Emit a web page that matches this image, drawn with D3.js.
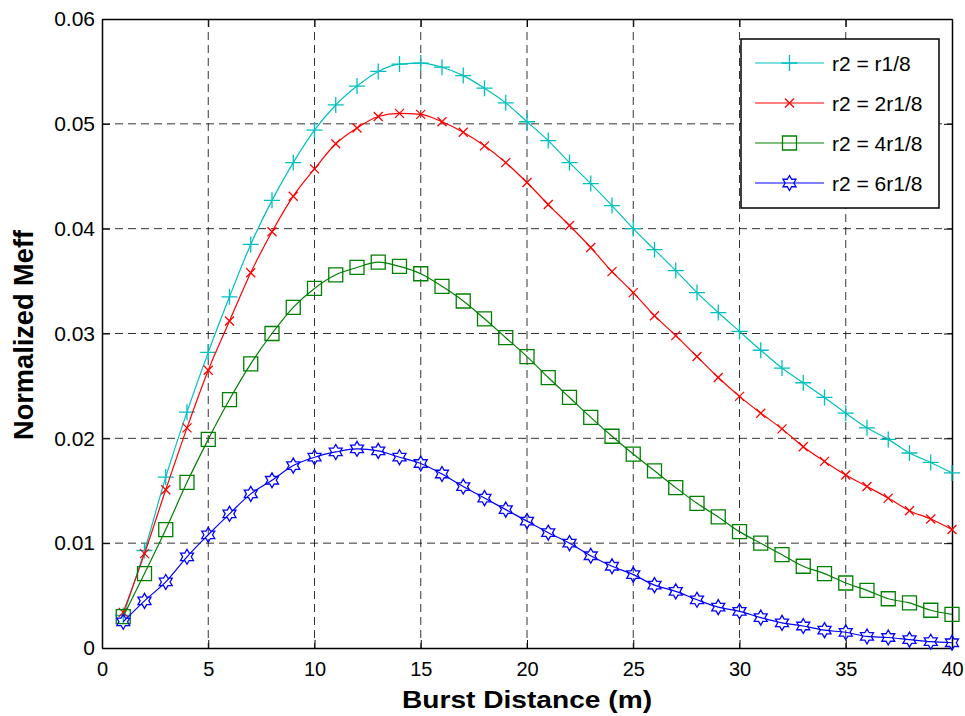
<!DOCTYPE html>
<meta charset="utf-8">
<style>
body { margin: 0; background: #fff; }
svg { font-family: "Liberation Sans", Arial, sans-serif; }
.grid line { stroke: #000; stroke-opacity: 0.8; stroke-dasharray: 8,5; }
.series { fill: none; stroke-width: 1.2px; }
</style>
<body>
<script src="https://d3js.org/d3.v7.min.js"></script>
<script>

// burst distance (m)
var distance = [1, 2, 3, 4, 5, 6, 7, 8, 9, 10, 11, 12, 13, 14, 15, 16, 17, 18, 19, 20,
                21, 22, 23, 24, 25, 26, 27, 28, 29, 30, 31, 32, 33, 34, 35, 36, 37, 38, 39, 40];

// normalized Meff, one array per r2
var r1_8 = [0.0031, 0.0093, 0.0163, 0.0225, 0.0282, 0.0335, 0.0385, 0.0427, 0.0463, 0.0494,
            0.0518, 0.0536, 0.0550, 0.0557, 0.0558, 0.0554, 0.0546, 0.0534, 0.0520, 0.0502,
            0.0484, 0.0463, 0.0443, 0.0422, 0.0400, 0.0380, 0.0360, 0.0339, 0.0320, 0.0302,
            0.0284, 0.0267, 0.0253, 0.0239, 0.0224, 0.0210, 0.0199, 0.0186, 0.0177, 0.0167];
var r2_8 = [0.0034, 0.0090, 0.0151, 0.0210, 0.0265, 0.0312, 0.0358, 0.0397, 0.0431, 0.0457,
            0.0481, 0.0496, 0.0507, 0.0510, 0.0509, 0.0502, 0.0492, 0.0479, 0.0463, 0.0444,
            0.0423, 0.0403, 0.0382, 0.0359, 0.0339, 0.0317, 0.0298, 0.0278, 0.0258, 0.0240,
            0.0224, 0.0209, 0.0192, 0.0178, 0.0165, 0.0154, 0.0143, 0.0131, 0.0123, 0.0113];
var r4_8 = [0.0030, 0.0071, 0.0113, 0.0158, 0.0199, 0.0237, 0.0271, 0.0300, 0.0325, 0.0343,
            0.0356, 0.0363, 0.0368, 0.0364, 0.0357, 0.0345, 0.0331, 0.0314, 0.0296, 0.0278,
            0.0258, 0.0239, 0.0220, 0.0202, 0.0185, 0.0169, 0.0153, 0.0138, 0.0125, 0.0111,
            0.0100, 0.0089, 0.0078, 0.0071, 0.0062, 0.0055, 0.0047, 0.0043, 0.0036, 0.0032];
var r6_8 = [0.0025, 0.0045, 0.0063, 0.0087, 0.0108, 0.0128, 0.0147, 0.0160, 0.0174, 0.0182,
            0.0187, 0.0190, 0.0188, 0.0182, 0.0176, 0.0166, 0.0154, 0.0143, 0.0132, 0.0121,
            0.0110, 0.0100, 0.0088, 0.0078, 0.0070, 0.0060, 0.0054, 0.0046, 0.0039, 0.0035,
            0.0029, 0.0024, 0.0021, 0.0017, 0.0015, 0.0011, 0.0010, 0.0008, 0.0006, 0.0005];

var seriesNames = ["r2 = r1/8", "r2 = 2r1/8", "r2 = 4r1/8", "r2 = 6r1/8"];
var xTicks = [0, 5, 10, 15, 20, 25, 30, 35, 40];
var yTicks = [0, 0.01, 0.02, 0.03, 0.04, 0.05, 0.06];

var series = [
  {name: seriesNames[0], values: r1_8, color: "#00bfbf", marker: "plus"},
  {name: seriesNames[1], values: r2_8, color: "#ff0000", marker: "cross"},
  {name: seriesNames[2], values: r4_8, color: "#008000", marker: "square"},
  {name: seriesNames[3], values: r6_8, color: "#0000ff", marker: "hexagram"}
];

var margin = {top: 19, right: 13, bottom: 68, left: 102},
    width = 965 - margin.left - margin.right,
    height = 716 - margin.top - margin.bottom;

var x = d3.scaleLinear().domain([0, 40]).range([0, width]);
var y = d3.scaleLinear().domain([0, 0.06]).range([height, 0]);

var svg = d3.select("body").append("svg")
    .attr("width", 965)
    .attr("height", 716)
  .append("g")
    .attr("transform", "translate(" + margin.left + "," + margin.top + ")");

// dashed grid
var grid = svg.append("g").attr("class", "grid");
grid.selectAll(".vg").data(xTicks.slice(1, -1)).enter().append("line")
    .attr("x1", function(d) { return x(d); }).attr("x2", function(d) { return x(d); })
    .attr("y1", 0).attr("y2", height);
grid.selectAll(".hg").data(yTicks.slice(1, -1)).enter().append("line")
    .attr("y1", function(d) { return y(d); }).attr("y2", function(d) { return y(d); })
    .attr("x1", 0).attr("x2", width);

// axes, ticks pointing inside (MATLAB style)
var tickLen = 8;
svg.append("g")
    .attr("transform", "translate(0," + height + ")")
    .call(d3.axisBottom(x).tickValues(xTicks).tickSizeInner(-tickLen).tickSizeOuter(0).tickPadding(14))
    .call(function(g) { g.selectAll("text").style("font-size", "20px").attr("fill", "#000"); });
svg.append("g")
    .call(d3.axisTop(x).tickValues(xTicks).tickSizeInner(-tickLen).tickSizeOuter(0))
    .call(function(g) { g.selectAll("text").remove(); });
svg.append("g")
    .call(d3.axisLeft(y).tickValues(yTicks).tickFormat(d3.format("~g")).tickSizeInner(-tickLen).tickSizeOuter(0).tickPadding(7))
    .call(function(g) { g.selectAll("text").style("font-size", "21px").attr("fill", "#000"); });
svg.append("g")
    .attr("transform", "translate(" + width + ",0)")
    .call(d3.axisRight(y).tickValues(yTicks).tickSizeInner(-tickLen).tickSizeOuter(0))
    .call(function(g) { g.selectAll("text").remove(); });
svg.selectAll(".domain").attr("stroke", "#000").attr("stroke-width", 1.5);

// marker shapes
function hexagram(R) {
  var r = R / Math.sqrt(3), pts = [];
  for (var i = 0; i < 12; i++) {
    var a = -Math.PI / 2 + i * Math.PI / 6, rr = i % 2 ? r : R;
    pts.push([rr * Math.cos(a), rr * Math.sin(a)]);
  }
  return "M" + pts.join("L") + "Z";
}
var markerPath = {
  plus: "M-8,0H8M0,-8V8",
  cross: "M-4.5,-4.5L4.5,4.5M-4.5,4.5L4.5,-4.5",
  square: "M-7,-7H7V7H-7Z",
  hexagram: hexagram(7.5)
};

var line = d3.line()
    .x(function(d, i) { return x(distance[i]); })
    .y(function(d) { return y(d); })
    .curve(d3.curveMonotoneX);

series.forEach(function(s) {
  var g = svg.append("g");
  g.append("path")
      .attr("class", "series")
      .attr("stroke", s.color)
      .attr("d", line(s.values));
  g.selectAll(".m").data(s.values).enter().append("path")
      .attr("transform", function(d, i) { return "translate(" + x(distance[i]) + "," + y(d) + ")"; })
      .attr("d", markerPath[s.marker])
      .attr("fill", "none")
      .attr("stroke", s.color)
      .attr("stroke-width", 1.3);
});

// axis labels
svg.append("text")
    .attr("x", width / 2)
    .attr("y", height + 60)
    .attr("text-anchor", "middle")
    .attr("textLength", 250)
    .attr("lengthAdjust", "spacingAndGlyphs")
    .style("font-size", "24px")
    .style("font-weight", "bold")
    .text("Burst Distance (m)");
svg.append("text")
    .attr("transform", "translate(" + (33 - margin.left) + "," + (335 - margin.top) + ") rotate(-90)")
    .attr("text-anchor", "middle")
    .attr("textLength", 210)
    .attr("lengthAdjust", "spacingAndGlyphs")
    .style("font-size", "28px")
    .style("font-weight", "bold")
    .text("Normalized Meff");

// legend
var legend = svg.append("g")
    .attr("transform", "translate(" + (741 - margin.left) + "," + (39 - margin.top) + ")");
legend.append("rect")
    .attr("width", 198).attr("height", 169)
    .attr("fill", "#fff").attr("stroke", "#000").attr("stroke-width", 1.5);
series.forEach(function(s, i) {
  var ly = 24 + i * 40;
  legend.append("line")
      .attr("x1", 14).attr("x2", 83).attr("y1", ly).attr("y2", ly)
      .attr("stroke", s.color).attr("stroke-width", 1.2);
  legend.append("path")
      .attr("transform", "translate(48.5," + ly + ")")
      .attr("d", markerPath[s.marker])
      .attr("fill", "none").attr("stroke", s.color).attr("stroke-width", 1.3);
  legend.append("text")
      .attr("x", 91).attr("y", ly + 8)
      .style("font-size", "21px")
      .text(s.name);
});

</script>
</body>
